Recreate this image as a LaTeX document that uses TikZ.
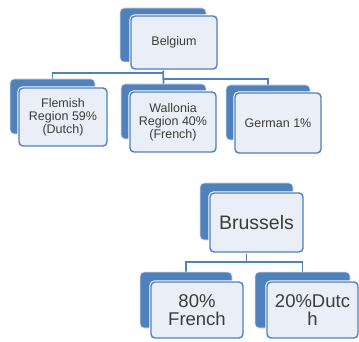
\documentclass[tikz,border=0pt]{standalone}
\usepackage{fontspec}
\setmainfont{Liberation Sans}
\usetikzlibrary{backgrounds}
\definecolor{sblue}{HTML}{4F81BD}
\definecolor{lightfill}{HTML}{E9EEF7}
\definecolor{txt}{HTML}{3C3C3C}
\tikzset{
  back/.style={draw=black!12, line width=0.8pt, fill=sblue, rounded corners=4pt,
    inner sep=0pt, outer sep=0pt, anchor=north west},
  front/.style={fill=lightfill, draw=sblue, line width=1.4pt, rounded corners=4pt,
    preaction={draw=white, line width=3.4pt},
    inner sep=0pt, outer sep=0pt, anchor=north west, align=center, text=txt},
  small/.style={font=\fontsize{12.5}{13}\selectfont},
  big/.style={font=\fontsize{18.5}{18}\selectfont},
  conn/.style={draw=sblue, line width=1.8pt}
}
\begin{document}
\begin{tikzpicture}[x=1pt,y=-1pt]
\useasboundingbox (0,0) rectangle (359,342);
% Belgium
\node[back, minimum width=86pt, minimum height=54pt] (bBel) at (120,8) {};
\node[front, small, minimum width=86pt, minimum height=53pt] (Bel) at (131,16) {Belgium};
% Flemish
\node[back, minimum width=85pt, minimum height=55pt] (bFle) at (10,79) {};
\node[front, small, minimum width=88pt, minimum height=58pt] (Fle) at (19,88) {Flemish\\Region 59\%\\(Dutch)};
% Wallonia
\node[back, minimum width=85pt, minimum height=55pt] (bWal) at (121,84) {};
\node[front, small, minimum width=86pt, minimum height=60pt] (Wal) at (130,92) {Wallonia\\Region 40\%\\(French)};
% German
\node[back, minimum width=84pt, minimum height=55pt] (bGer) at (226,85) {};
\node[front, small, minimum width=86pt, minimum height=60pt] (Ger) at (235,93) {German 1\%};
% Brussels
\node[back, minimum width=93pt, minimum height=57pt] (bBru) at (200,183) {};
\node[front, font=\fontsize{19.5}{20}\selectfont, minimum width=93pt, minimum height=59pt] (Bru) at (210,193) {Brussels};
% 80% French
\node[back, minimum width=92pt, minimum height=56pt] (bFr) at (140,272) {};
\node[front, big, minimum width=92pt, minimum height=56pt] (Fr) at (151,282) {80\%\\French};
% 20% Dutch
\node[back, minimum width=95pt, minimum height=56pt] (bDu) at (255,272) {};
\node[front, big, minimum width=91pt, minimum height=56pt] (Du) at (267,282) {20\%Dutc\\h};
\coordinate (yL) at (0,73);
\coordinate (yR) at (0,79);
\coordinate (yB) at (0,262);
\begin{pgfonlayer}{background}
\draw[conn] (bBel.south) -- (bWal.north);
\draw[conn] (bFle.north) -- (bFle.north |- yL) -- (bBel.south |- yL);
\draw[conn] (bGer.north) -- (bGer.north |- yR) -- (bBel.south |- yR);
\draw[conn] (bBru.south) -- (bBru.south |- yB);
\draw[conn] (bFr.north) -- (bFr.north |- yB) -- (bDu.north |- yB) -- (bDu.north);
\end{pgfonlayer}
\end{tikzpicture}
\end{document}
